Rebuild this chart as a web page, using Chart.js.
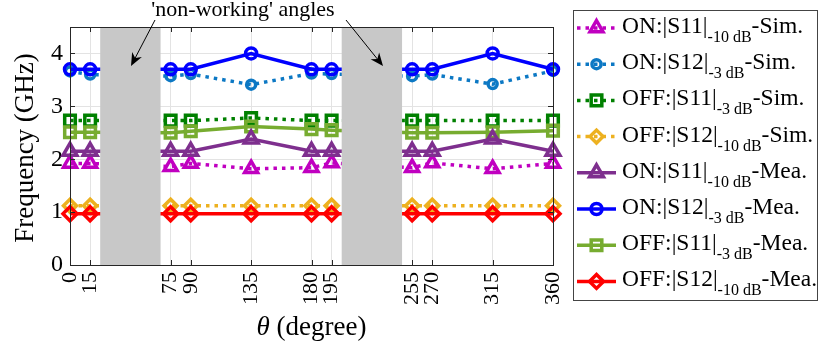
<!DOCTYPE html>
<html>
<head>
<meta charset="utf-8">
<script src="https://cdn.jsdelivr.net/npm/chart.js@4.4.1/dist/chart.umd.min.js"></script>
<style>
  html, body { margin: 0; padding: 0; background: #fff; }
  #wrap { width: 819px; height: 351px; }
</style>
</head>
<body>
<div id="wrap"><canvas id="chart" width="819" height="351"></canvas></div>
<script>
// rotation angle of the structure (degree)
const angles = [0, 15, 75, 90, 135, 180, 195, 255, 270, 315, 360];
const yTicks = [0, 1, 2, 3, 4];
// angle ranges where the antenna does not work
const nonWorking = [[22.5, 67.5], [202.5, 247.5]];

// simulated band edges (GHz)
const onS11Sim  = [1.92, 1.92, 1.86, 1.92, 1.82, 1.84, 1.93, 1.84, 1.93, 1.82, 1.92];
const onS12Sim  = [3.66, 3.60, 3.57, 3.61, 3.41, 3.62, 3.61, 3.57, 3.60, 3.42, 3.67];
const offS11Sim = [2.73, 2.73, 2.73, 2.73, 2.78, 2.73, 2.73, 2.73, 2.73, 2.73, 2.73];
const offS12Sim = [1.12, 1.12, 1.12, 1.12, 1.12, 1.12, 1.12, 1.12, 1.12, 1.12, 1.12];
// measured band edges (GHz)
const onS11Mea  = [2.15, 2.15, 2.15, 2.15, 2.38, 2.15, 2.15, 2.15, 2.15, 2.38, 2.15];
const onS12Mea  = [3.70, 3.70, 3.70, 3.70, 4.00, 3.70, 3.70, 3.70, 3.70, 4.00, 3.70];
const offS11Mea = [2.51, 2.51, 2.50, 2.53, 2.62, 2.57, 2.55, 2.50, 2.50, 2.51, 2.54];
const offS12Mea = [0.97, 0.97, 0.97, 0.97, 0.97, 0.97, 0.97, 0.97, 0.97, 0.97, 0.97];

const SERIF = '"Liberation Serif", "DejaVu Serif", serif';
const DOT = [3.5, 5];

const series = [
  { name: ['ON:|S11|', '-10 dB', '-Sim.'],  data: onS11Sim,  color: '#c000c0', dash: DOT, style: 'triangle', r: 7.5 },
  { name: ['ON:|S12|', '-3 dB', '-Sim.'],   data: onS12Sim,  color: '#0c78c4', dash: DOT, style: 'circle',   r: 4.5 },
  { name: ['OFF:|S11|', '-3 dB', '-Sim.'],  data: offS11Sim, color: '#008000', dash: DOT, style: 'rect',     r: 7.5 },
  { name: ['OFF:|S12|', '-10 dB', '-Sim.'], data: offS12Sim, color: '#edb120', dash: DOT, style: 'rectRot',  r: 6.5 },
  { name: ['ON:|S11|', '-10 dB', '-Mea.'],  data: onS11Mea,  color: '#7e2f8e', dash: [],  style: 'triangle', r: 8 },
  { name: ['ON:|S12|', '-3 dB', '-Mea.'],   data: onS12Mea,  color: '#0000ff', dash: [],  style: 'circle',   r: 5.5 },
  { name: ['OFF:|S11|', '-3 dB', '-Mea.'],  data: offS11Mea, color: '#77ac30', dash: [],  style: 'rect',     r: 7.5 },
  { name: ['OFF:|S12|', '-10 dB', '-Mea.'], data: offS12Mea, color: '#ff0000', dash: [],  style: 'rectRot',  r: 7 }
];

function drawArrow(ctx, x0, y0, x1, y1) {
  const ang = Math.atan2(y1 - y0, x1 - x0);
  const len = 13, half = 5.5, back = 9;
  ctx.beginPath();
  ctx.moveTo(x0, y0);
  ctx.lineTo(x1 - Math.cos(ang) * back, y1 - Math.sin(ang) * back);
  ctx.stroke();
  ctx.beginPath();
  ctx.moveTo(x1, y1);
  const bx = x1 - Math.cos(ang) * len, by = y1 - Math.sin(ang) * len;
  ctx.lineTo(bx - Math.sin(ang) * half, by + Math.cos(ang) * half);
  ctx.lineTo(x1 - Math.cos(ang) * back, y1 - Math.sin(ang) * back);
  ctx.lineTo(bx + Math.sin(ang) * half, by - Math.cos(ang) * half);
  ctx.closePath();
  ctx.fill();
}

const decorations = {
  id: 'decorations',
  afterDatasetsDraw(chart) {
    const { ctx, chartArea: a, scales: { x, y } } = chart;
    ctx.save();

    // shaded angle ranges sit on top of the curves
    ctx.fillStyle = '#c8c8c8';
    for (const [from, to] of nonWorking) {
      const x0 = x.getPixelForValue(from), x1 = x.getPixelForValue(to);
      ctx.fillRect(x0, a.top, x1 - x0, a.bottom - a.top);
    }

    // axes box with inward ticks
    ctx.strokeStyle = '#262626';
    ctx.lineWidth = 1;
    ctx.strokeRect(Math.round(a.left) + 0.5, Math.round(a.top) + 0.5,
      Math.round(a.right - a.left), Math.round(a.bottom - a.top));
    ctx.beginPath();
    for (const v of angles) {
      const px = Math.round(x.getPixelForValue(v)) + 0.5;
      ctx.moveTo(px, a.bottom); ctx.lineTo(px, a.bottom - 5);
      ctx.moveTo(px, a.top); ctx.lineTo(px, a.top + 5);
    }
    for (const v of yTicks) {
      const py = Math.round(y.getPixelForValue(v)) + 0.5;
      ctx.moveTo(a.left, py); ctx.lineTo(a.left + 5, py);
      ctx.moveTo(a.right, py); ctx.lineTo(a.right - 5, py);
    }
    ctx.stroke();

    // axis titles
    ctx.fillStyle = '#000';
    ctx.textBaseline = 'alphabetic';
    ctx.save();
    ctx.translate(33, (a.top + a.bottom) / 2 + 2);
    ctx.rotate(-Math.PI / 2);
    ctx.font = '27px ' + SERIF;
    ctx.textAlign = 'center';
    ctx.fillText('Frequency (GHz)', 0, 0);
    ctx.restore();

    ctx.textAlign = 'left';
    ctx.font = 'italic 27px ' + SERIF;
    const thW = ctx.measureText('\u03b8').width;
    ctx.font = '27px ' + SERIF;
    const restW = ctx.measureText(' (degree)').width;
    let tx = (a.left + a.right) / 2 - (thW + restW) / 2;
    ctx.font = 'italic 27px ' + SERIF;
    ctx.fillText('\u03b8', tx, 335);
    ctx.font = '27px ' + SERIF;
    ctx.fillText(' (degree)', tx + thW, 335);

    // annotation with arrows into the shaded ranges
    ctx.font = '22px ' + SERIF;
    ctx.textAlign = 'center';
    ctx.fillText("'non-working' angles", 243, 16);
    ctx.strokeStyle = '#000';
    ctx.fillStyle = '#000';
    ctx.lineWidth = 1;
    drawArrow(ctx, 155, 20, 131, 66);
    drawArrow(ctx, 346, 20, 383, 66);

    ctx.restore();
  },
  afterDraw(chart) {
    const { ctx } = chart;
    ctx.save();
    // legend box
    const L = { left: 573, top: 10, right: 818, bottom: 301 };
    ctx.fillStyle = '#fff';
    ctx.fillRect(L.left, L.top, L.right - L.left, L.bottom - L.top);
    ctx.strokeStyle = '#444';
    ctx.lineWidth = 1;
    ctx.strokeRect(L.left + 0.5, L.top + 0.5, L.right - L.left - 1, L.bottom - L.top - 1);

    series.forEach((s, i) => {
      const base = 33 + i * 36.2;
      const my = base - 5;
      ctx.save();
      ctx.strokeStyle = s.color;
      ctx.lineWidth = 3.5;
      ctx.setLineDash(s.dash);
      ctx.beginPath();
      ctx.moveTo(577, my); ctx.lineTo(616, my);
      ctx.stroke();
      ctx.restore();
      ctx.save();
      ctx.strokeStyle = s.color;
      ctx.fillStyle = 'rgba(0,0,0,0)';
      ctx.lineWidth = 3.5;
      Chart.helpers.drawPoint(ctx, { pointStyle: s.style, radius: s.r, borderWidth: 3.5, rotation: 0 }, 596.5, my);
      ctx.restore();

      ctx.fillStyle = '#000';
      ctx.textAlign = 'left';
      ctx.textBaseline = 'alphabetic';
      let tx = 622;
      ctx.font = '23.5px ' + SERIF;
      ctx.fillText(s.name[0], tx, base);
      tx += ctx.measureText(s.name[0]).width;
      ctx.font = '16px ' + SERIF;
      ctx.fillText(s.name[1], tx, base + 9);
      tx += ctx.measureText(s.name[1]).width;
      ctx.font = '23.5px ' + SERIF;
      ctx.fillText(s.name[2], tx, base);
    });
    ctx.restore();
  }
};

new Chart(document.getElementById('chart'), {
  type: 'line',
  data: {
    datasets: series.map((s, i) => ({
      data: angles.map((a, k) => ({ x: a, y: s.data[k] })),
      borderColor: s.color,
      backgroundColor: 'transparent',
      borderWidth: 3.5,
      borderDash: s.dash,
      pointStyle: s.style,
      pointRadius: s.r,
      pointBorderWidth: 3.5,
      pointBorderColor: s.color,
      pointBackgroundColor: 'transparent',
      tension: 0,
      clip: false,
      order: i < 4 ? 1 : 0
    }))
  },
  options: {
    responsive: false,
    animation: false,
    layout: { padding: { top: 27, right: 266, left: 0, bottom: 0 } },
    plugins: { legend: { display: false }, tooltip: { enabled: false } },
    scales: {
      x: {
        type: 'linear',
        min: 0,
        max: 360,
        afterBuildTicks: scale => { scale.ticks = angles.map(v => ({ value: v })); },
        afterFit: scale => { scale.height = 86; },
        grid: { color: '#e3e3e3', drawTicks: false },
        border: { display: false },
        ticks: {
          autoSkip: false,
          minRotation: 90,
          maxRotation: 90,
          padding: 7,
          color: '#000',
          font: { family: SERIF, size: 22 }
        }
      },
      y: {
        min: 0,
        max: 4.5,
        afterBuildTicks: scale => { scale.ticks = yTicks.map(v => ({ value: v })); },
        afterFit: scale => { scale.width = 70; },
        grid: { color: '#e3e3e3', drawTicks: false },
        border: { display: false },
        ticks: {
          padding: 7,
          color: '#000',
          font: { family: SERIF, size: 24 }
        }
      }
    }
  },
  plugins: [decorations]
});
</script>
</body>
</html>
